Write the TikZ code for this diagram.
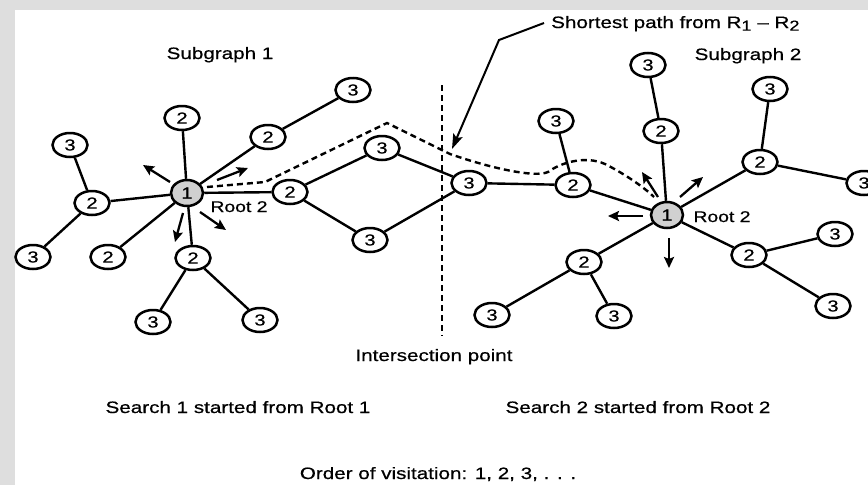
\documentclass[tikz,border=0pt]{standalone}
\usepackage{fontspec}
\setmainfont{Liberation Sans}[FakeStretch=1.25,FakeBold=0.6]
\usetikzlibrary{arrows.meta,shapes.geometric}
\definecolor{bggrey}{RGB}{222,222,222}
\definecolor{rootgrey}{RGB}{208,208,208}
\begin{document}
\begin{tikzpicture}[x=1pt,y=-1pt,
  vtx/.style={draw,ellipse,line width=2.5pt,minimum width=35pt,minimum height=24pt,inner sep=0pt,fill=white,font=\fontsize{16}{16}\selectfont},
  rootv/.style={vtx,fill=rootgrey,minimum width=32pt,minimum height=26pt},
  edge/.style={line width=2.4pt},
  dpath/.style={line width=2.4pt,dash pattern=on 6pt off 4pt},
  sarrow/.style={line width=2.3pt,-{Stealth[length=11pt,width=10pt,inset=2pt]}},
  parrow/.style={line width=2pt,-{Stealth[length=15pt,width=10pt,inset=3pt]}},
  lbl/.style={anchor=base,inner sep=0pt,font=\fontsize{16.5}{18}\selectfont},
  rlbl/.style={anchor=base,inner sep=0pt,font=\fontsize{15.5}{16}\selectfont},
]
\useasboundingbox (0,0) rectangle (868,485);
\clip (0,0) rectangle (868,485);
\fill[bggrey] (0,0) rectangle (868,485);
\fill[white] (15,10) rectangle (868,485);

% ---- left subgraph
\node[rootv] (r1) at (187,193) {1};
\node[vtx] (a1) at (182,118) {2};
\node[vtx] (a2) at (268,137) {2};
\node[vtx] (a3) at (353,90) {3};
\node[vtx] (a4) at (92,203) {2};
\node[vtx] (a5) at (70,145) {3};
\node[vtx] (a6) at (33,257) {3};
\node[vtx] (a7) at (108,257) {2};
\node[vtx] (a8) at (193,258) {2};
\node[vtx] (a9) at (153,322) {3};
\node[vtx] (a10) at (260,320) {3};
\node[vtx] (m1) at (290,192) {2};
\node[vtx] (m2) at (382,148) {3};
\node[vtx] (m3) at (370,240) {3};
\node[vtx] (m4) at (469,183) {3};
% ---- right subgraph
\node[vtx] (b1) at (573,185) {2};
\node[vtx] (b2) at (556,121) {3};
\node[rootv] (r2) at (667,215) {1};
\node[vtx] (b3) at (661,131) {2};
\node[vtx] (b4) at (648,65) {3};
\node[vtx] (b5) at (760,162) {2};
\node[vtx] (b6) at (770,89) {3};
\node[vtx] (b7) at (864,183) {3};
\node[vtx] (b8) at (749,255) {2};
\node[vtx] (b9) at (835,234) {3};
\node[vtx] (b10) at (833,306) {3};
\node[vtx] (b11) at (584,262) {2};
\node[vtx] (b12) at (492,315) {3};
\node[vtx] (b13) at (614,316) {3};

% ---- edges
\draw[edge] (r1) -- (a1);
\draw[edge] (r1) -- (a2);
\draw[edge] (a2) -- (a3);
\draw[edge] (r1) -- (a4);
\draw[edge] (a4) -- (a5);
\draw[edge] (a4) -- (a6);
\draw[edge] (r1) -- (a7);
\draw[edge] (r1) -- (a8);
\draw[edge] (a8) -- (a9);
\draw[edge] (a8) -- (a10);
\draw[edge] (r1) -- (m1);
\draw[edge] (m1) -- (m2);
\draw[edge] (m1) -- (m3);
\draw[edge] (m2) -- (m4);
\draw[edge] (m3) -- (m4);
\draw[edge] (m4) -- (b1);
\draw[edge] (b1) -- (b2);
\draw[edge] (b1) -- (r2);
\draw[edge] (r2) -- (b3);
\draw[edge] (b3) -- (b4);
\draw[edge] (r2) -- (b5);
\draw[edge] (b5) -- (b6);
\draw[edge] (b5) -- (b7);
\draw[edge] (r2) -- (b8);
\draw[edge] (b8) -- (b9);
\draw[edge] (b8) -- (b10);
\draw[edge] (r2) -- (b11);
\draw[edge] (b11) -- (b12);
\draw[edge] (b11) -- (b13);

% ---- intersection line
\coordinate (it) at (442,85);
\coordinate (ib) at (442,336);
\draw[dpath] (it) -- (ib);

% ---- shortest path (dashed)
\coordinate (s0) at (207,187);
\coordinate (s1) at (265,182);
\coordinate (s2) at (387,123);
\coordinate (s3) at (450,154);
\coordinate (s4) at (548,172);
\coordinate (s5) at (605,164);
\coordinate (s6) at (654,197);
\draw[dpath] (s0) -- (s1) -- (s2) -- (s3)
  .. controls (490,168) and (535,178) .. (s4)
  .. controls (560,163) and (585,155) .. (s5)
  .. controls (625,174) and (645,188) .. (s6);

% ---- search direction arrows, root 1
\coordinate (p1a) at (170,182); \coordinate (p1b) at (143,165);
\coordinate (p2a) at (217,180); \coordinate (p2b) at (248,168);
\coordinate (p3a) at (183,213); \coordinate (p3b) at (175,242);
\coordinate (p4a) at (200,212); \coordinate (p4b) at (226,230);
\draw[sarrow] (p1a) -- (p1b);
\draw[sarrow] (p2a) -- (p2b);
\draw[sarrow] (p3a) -- (p3b);
\draw[sarrow] (p4a) -- (p4b);
% ---- search direction arrows, root 2
\coordinate (q1a) at (658,197); \coordinate (q1b) at (642,172);
\coordinate (q2a) at (680,197); \coordinate (q2b) at (703,177);
\coordinate (q3a) at (643,216); \coordinate (q3b) at (608,216);
\coordinate (q4a) at (669,238); \coordinate (q4b) at (669,268);
\draw[sarrow] (q1a) -- (q1b);
\draw[sarrow] (q2a) -- (q2b);
\draw[sarrow] (q3a) -- (q3b);
\draw[sarrow] (q4a) -- (q4b);

% ---- labels
\node[lbl] (sg1) at (220,59) {Subgraph 1};
\node[lbl] (sg2) at (748,60) {Subgraph 2};
\node[lbl,anchor=base west] (sp) at (551,28) {Shortest path from R{\fontsize{14.5}{14}\selectfont\raisebox{-0.35ex}{1}} -- R{\fontsize{14.5}{14}\selectfont\raisebox{-0.35ex}{2}}};
\coordinate (ps) at (544,23);
\coordinate (pk) at (499,40);
\coordinate (pt) at (452,149);
\draw[parrow] (ps) -- (pk) -- (pt);
\node[rlbl] (rl1) at (239,212) {Root 2};
\node[rlbl] (rl2) at (722,222) {Root 2};
\node[lbl] (ip) at (434,361) {Intersection point};
\node[lbl] (s1t) at (238,413) {Search 1 started from Root 1};
\node[lbl] (s2t) at (638,413) {Search 2 started from Root 2};
\node[lbl] (ov) at (438,479) {Order of visitation: 1, 2, 3, . . .};
\end{tikzpicture}
\end{document}
